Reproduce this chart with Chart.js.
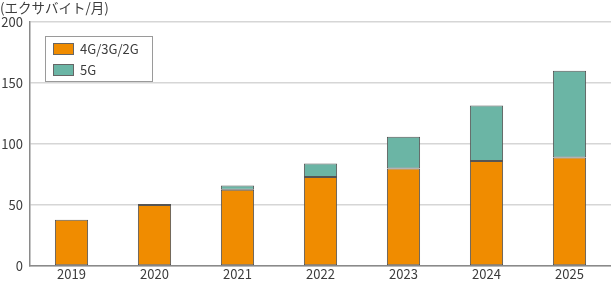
<!DOCTYPE html>
<html>
<head>
<meta charset="utf-8">
<script src="https://cdn.jsdelivr.net/npm/chart.js@4/dist/chart.umd.min.js"></script>
<style>
  html, body { margin: 0; padding: 0; background: #fff; }
  #wrap { width: 611px; height: 281px; position: relative; }
</style>
</head>
<body>
<div id="wrap"><canvas id="trafficChart"></canvas></div>
<script>
document.addEventListener('DOMContentLoaded', function () {
    // Data (exabytes per month)
    const years = ['2019', '2020', '2021', '2022', '2023', '2024', '2025'];
    const legacyTraffic = [38, 50, 62.5, 73, 80, 86, 89];
    const fiveGTraffic = [0, 0.8, 3.5, 11, 26, 45.5, 71];
    const seriesNames = ['4G/3G/2G', '5G'];
    const yTicks = [0, 50, 100, 150, 200];
    const unitLabel = '(エクサバイト/月)';

    const fontFamily = '"Noto Sans CJK JP", "Noto Sans", sans-serif';
    const textColor = '#3c3c3c';

    // Draws the unit label and the boxed legend in the top-left corner
    const decorations = {
        id: 'decorations',
        afterDraw(chart) {
            const ctx = chart.ctx;
            ctx.save();
            ctx.font = '13.5px ' + fontFamily;
            ctx.fillStyle = textColor;
            ctx.textBaseline = 'middle';
            ctx.textAlign = 'left';
            ctx.fillText(unitLabel, 0, 8);

            // legend box
            ctx.fillStyle = '#fff';
            ctx.fillRect(45.5, 36.5, 107, 45);
            ctx.strokeStyle = '#9a9a9a';
            ctx.lineWidth = 1;
            ctx.strokeRect(45.5, 36.5, 107, 45);

            chart.data.datasets.forEach(function (ds, i) {
                const y = 49 + i * 21;
                ctx.fillStyle = ds.backgroundColor;
                ctx.fillRect(53.5, y - 5.5, 20, 11);
                ctx.strokeStyle = '#666';
                ctx.strokeRect(53.5, y - 5.5, 20, 11);
                ctx.fillStyle = textColor;
                ctx.font = '13px ' + fontFamily;
                ctx.fillText(ds.label, 80, y);
            });
            ctx.restore();
        }
    };

    const ctxBar = document.getElementById('trafficChart').getContext('2d');
    new Chart(ctxBar, {
        type: 'bar',
        data: {
            labels: years,
            datasets: [{
                label: seriesNames[0],
                data: legacyTraffic,
                backgroundColor: '#f08c00',
                borderColor: '#555555',
                borderWidth: 1,
                borderSkipped: false
            }, {
                label: seriesNames[1],
                data: fiveGTraffic,
                backgroundColor: '#6bb5a5',
                borderColor: '#555555',
                borderWidth: 1,
                borderSkipped: false
            }]
        },
        options: {
            responsive: true,
            maintainAspectRatio: false,
            animation: false,
            layout: { padding: { top: 22, right: 0, left: 0, bottom: 0 } },
            datasets: {
                bar: { barPercentage: 0.4, categoryPercentage: 1.0 }
            },
            plugins: {
                legend: { display: false },
                tooltip: { enabled: false }
            },
            scales: {
                x: {
                    stacked: true,
                    grid: { display: false, drawTicks: false, tickLength: 0 },
                    border: { color: '#8a8a8a', width: 1.5 },
                    ticks: {
                        color: textColor,
                        padding: 0,
                        font: { family: fontFamily, size: 13 }
                    },
                    afterFit(scale) { scale.height = 15; }
                },
                y: {
                    stacked: true,
                    min: 0,
                    max: 200,
                    afterBuildTicks(scale) {
                        scale.ticks = yTicks.map(v => ({ value: v }));
                    },
                    grid: { color: '#d6d6d6', lineWidth: 1.5, drawTicks: false },
                    border: { color: '#8a8a8a', width: 1.5 },
                    ticks: {
                        color: textColor,
                        padding: 7,
                        font: { family: fontFamily, size: 13 }
                    },
                    afterFit(scale) { scale.width = 30; }
                }
            }
        },
        plugins: [decorations]
    });
});
</script>
</body>
</html>
